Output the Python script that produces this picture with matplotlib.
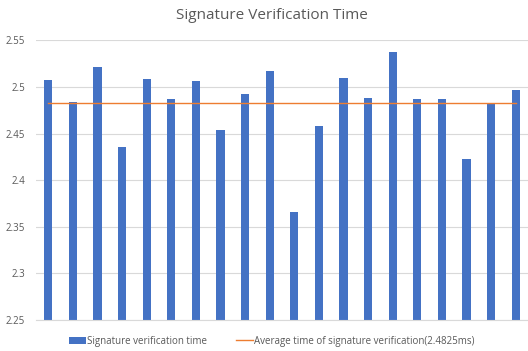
import numpy as np
import matplotlib
matplotlib.use("Agg")
import matplotlib.pyplot as plt

plt.rcParams['font.family'] = ['Open Sans', 'DejaVu Sans']

runs = list(range(1, 21))
times = [2.507, 2.484, 2.521, 2.436, 2.508, 2.487, 2.506, 2.454, 2.492, 2.517,
         2.366, 2.458, 2.510, 2.488, 2.537, 2.487, 2.487, 2.423, 2.482, 2.497]
avg_time = 2.4825
avg_line = [avg_time] * len(runs)

fig = plt.figure(figsize=(5.28, 3.51), dpi=100)
ax = fig.add_axes([36 / 528, 1 - 320 / 351, 492 / 528, (320 - 40.3) / 351])

x = np.arange(len(runs))
bars = ax.bar(x, times, width=0.33, color='#4472C4', label='Signature verification time', zorder=2)
line, = ax.plot(x, avg_line, color='#ED7D31', linewidth=1.0,
                label='Average time of signature verification(2.4825ms)', zorder=3)

ax.set_xlim(-0.5, len(runs) - 0.5)
ax.set_ylim(2.25, 2.55)
ax.set_yticks([2.25, 2.3, 2.35, 2.4, 2.45, 2.5, 2.55])
ax.set_yticklabels(['2.25', '2.3', '2.35', '2.4', '2.45', '2.5', '2.55'])
ax.set_xticks([])
ax.yaxis.grid(True, color='#D9D9D9', linewidth=0.8, zorder=0)
ax.tick_params(axis='y', length=0, labelsize=7, labelcolor='#595959', pad=8)
for s in ['top', 'right', 'left']:
    ax.spines[s].set_visible(False)
ax.spines['bottom'].set_color('#D9D9D9')
ax.spines['bottom'].set_linewidth(0.8)

fig.text(0.515, 0.955, 'Signature Verification Time', ha='center', va='center',
         fontsize=11, color='#595959')

fig.legend(handles=[bars, line], loc='center', bbox_to_anchor=(0.515, 0.028), ncol=2,
           frameon=False, fontsize=7, labelcolor='#595959', handlelength=1.7,
           handletextpad=0.15, columnspacing=3.0)

fig.savefig('out.png', dpi=100)
